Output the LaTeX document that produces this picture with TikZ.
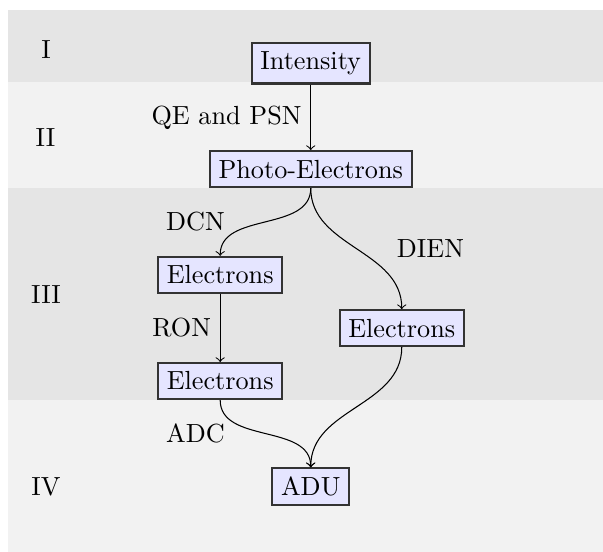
\documentclass[tikz,border=0pt]{standalone}
\usetikzlibrary{positioning}
\begin{document}
\begin{tikzpicture}[
  stage/.style={rectangle, draw=black!80, thick, fill=blue!10},
  band/.style={fill=gray!20},
  bandlight/.style={fill=gray!10},
  flow/.style={->}
]
  \useasboundingbox (0,0) rectangle (8.09,-7.40);

  % ── Background bands ───────────────────────────────────────────────────
  \fill[band]      (0.107,-0.134) rectangle (8.09,-1.100);
  \fill[bandlight] (0.107,-1.100) rectangle (8.09,-2.517);
  \fill[band]      (0.107,-2.517) rectangle (8.09,-5.364);
  \fill[bandlight] (0.107,-5.364) rectangle (8.09,-7.400);

  % ── Band labels ────────────────────────────────────────────────────────
  \node (bandI)   at (0.617,-0.670) {I};
  \node (bandII)  at (0.610,-1.850) {II};
  \node (bandIII) at (0.617,-3.956) {III};
  \node (bandIV)  at (0.617,-6.527) {IV};

  % ── Stages ─────────────────────────────────────────────────────────────
  \node[stage] (intensity) at (4.169,-0.847) {Intensity};
  \node[stage] (photo)     at (4.169,-2.269) {Photo-Electrons};
  \node[stage] (elecdark)  at (2.954,-3.688) {Electrons};
  \node[stage] (elecdien)  at (5.390,-4.403) {Electrons};
  \node[stage] (elecread)  at (2.954,-5.112) {Electrons};
  \node[stage] (adu)       at (4.169,-6.531) {ADU};

  % ── Noise sources ──────────────────────────────────────────────────────
  % Intensity → Photo-Electrons
  \draw[flow] (intensity) -- node[left]{QE and PSN} (photo);
  % Photo-Electrons → Electrons (dark current)
  \draw[flow] (photo.south) to[out=-90, in=90]
                            node[left=12pt]{DCN} (elecdark.north);
  % Photo-Electrons → Electrons (DIEN)
  \draw[flow] (photo.south) to[out=-90, in=90]
                            node[right=12pt]{DIEN} (elecdien.north);
  % Electrons → Electrons (read-out)
  \draw[flow] (elecdark) -- node[left]{RON} (elecread);
  % Electrons → ADU
  \draw[flow] (elecread.south) to[out=-90, in=90]
                               node[left=12pt]{ADC} (adu.north);
  \draw[flow] (elecdien.south) to[out=-90, in=90] (adu.north);
\end{tikzpicture}
\end{document}
